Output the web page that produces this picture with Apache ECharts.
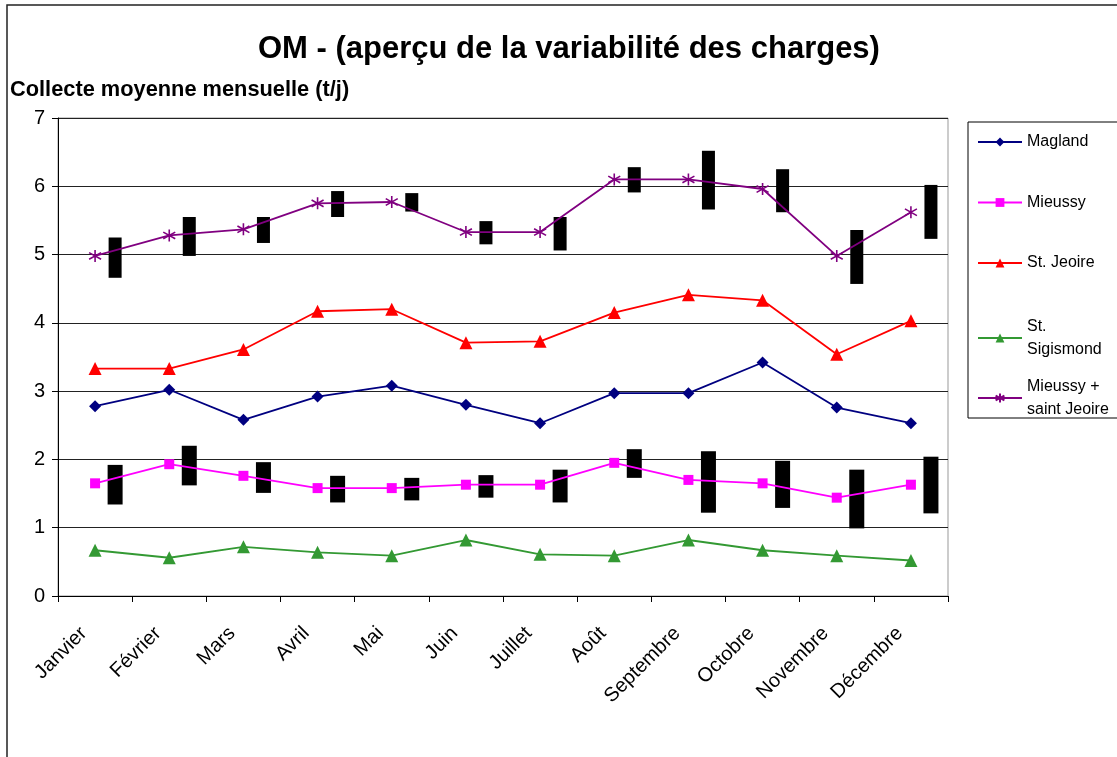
<!DOCTYPE html>
<html>
<head>
<meta charset="utf-8">
<title>OM - variabilité des charges</title>
<script src="https://cdn.jsdelivr.net/npm/echarts@6/dist/echarts.min.js"></script>
<style>
  html, body { margin: 0; padding: 0; background: #fff; }
  #chart { width: 1117px; height: 757px; }
</style>
</head>
<body>
<div id="chart"></div>
<script>
// mois
const months = ['Janvier', 'Février', 'Mars', 'Avril', 'Mai', 'Juin', 'Juillet', 'Août', 'Septembre', 'Octobre', 'Novembre', 'Décembre'];
const yTicks = [0, 1, 2, 3, 4, 5, 6, 7];

// collecte moyenne (t/j)
const magland = [2.78, 3.02, 2.58, 2.92, 3.08, 2.80, 2.53, 2.97, 2.97, 3.42, 2.76, 2.53];
const mieussy = [1.65, 1.93, 1.76, 1.58, 1.58, 1.63, 1.63, 1.95, 1.70, 1.65, 1.44, 1.63];
const stJeoire = [3.33, 3.33, 3.61, 4.17, 4.20, 3.71, 3.73, 4.15, 4.41, 4.33, 3.54, 4.03];
const stSigismond = [0.67, 0.56, 0.72, 0.64, 0.59, 0.82, 0.61, 0.59, 0.82, 0.67, 0.59, 0.52];
const mieussyJeoire = [4.98, 5.28, 5.37, 5.75, 5.77, 5.33, 5.33, 6.10, 6.10, 5.96, 4.98, 5.62];

// variabilité (min / max) - barres noires
const mieussyLow = [1.34, 1.62, 1.51, 1.37, 1.40, 1.44, 1.37, 1.73, 1.22, 1.29, 0.99, 1.21];
const mieussyHigh = [1.92, 2.20, 1.96, 1.76, 1.73, 1.77, 1.85, 2.15, 2.12, 1.98, 1.85, 2.04];
const mjLow = [4.66, 4.98, 5.17, 5.55, 5.63, 5.15, 5.06, 5.91, 5.66, 5.62, 4.57, 5.23];
const mjHigh = [5.25, 5.55, 5.55, 5.93, 5.90, 5.49, 5.55, 6.28, 6.52, 6.25, 5.36, 6.02];

const starPath = 'path://M5,0 L5,10 M0.8,2.2 L9.2,7.8 M9.2,2.2 L0.8,7.8';

function rangeItem(widthPx) {
  return function (params, api) {
    const idx = api.value(0);
    const top = api.coord([idx, api.value(2)]);
    const bot = api.coord([idx, api.value(1)]);
    const band = api.size([1, 0])[0];
    const cx = top[0] + band * 0.27;
    return {
      type: 'rect',
      shape: { x: cx - widthPx / 2, y: top[1], width: widthPx, height: bot[1] - top[1] },
      style: { fill: '#000' }
    };
  };
}

const legendText = { fontSize: 16, lineHeight: 23, color: '#000' };

const chart = echarts.init(document.getElementById('chart'));
chart.setOption({
  animation: false,
  textStyle: { fontFamily: 'Liberation Sans, Arial, sans-serif', color: '#000' },
  graphic: [{
    type: 'rect',
    shape: { x: 7, y: 5, width: 1200, height: 800 },
    style: { fill: 'none', stroke: '#222', lineWidth: 1.5 },
    silent: true
  }, {
    type: 'rect',
    shape: { x: 968, y: 122, width: 160, height: 296 },
    style: { fill: 'none', stroke: '#000', lineWidth: 1 },
    silent: true
  }],
  title: [{
    text: 'OM - (aperçu de la variabilité des charges)',
    left: 253, top: 29,
    textStyle: { fontSize: 31, fontWeight: 'bold', color: '#000' }
  }, {
    text: 'Collecte moyenne mensuelle (t/j)',
    left: 5, top: 74,
    textStyle: { fontSize: 21.8, fontWeight: 'bold', color: '#000' }
  }],
  legend: [{
    orient: 'vertical',
    left: 977, top: 130.5, padding: 0,
    data: ['Magland', 'Mieussy', 'St. Jeoire'],
    itemWidth: 44, itemHeight: 11, itemGap: 37.5,
    textStyle: legendText
  }, {
    orient: 'vertical',
    left: 977, top: 315, padding: 0,
    data: ['St. Sigismond', 'Mieussy + saint Jeoire'],
    formatter: function (name) {
      if (name === 'St. Sigismond') return 'St.\nSigismond';
      return 'Mieussy +\nsaint Jeoire';
    },
    itemWidth: 44, itemHeight: 11, itemGap: 14,
    textStyle: legendText
  }],
  grid: { left: 58, right: 169, top: 118, bottom: 161, show: true, borderColor: '#999', borderWidth: 1 },
  xAxis: {
    type: 'category',
    data: months,
    boundaryGap: true,
    axisLine: { lineStyle: { color: '#000', width: 1 } },
    axisTick: { show: true, length: 6, interval: 0, lineStyle: { color: '#000' } },
    axisLabel: { rotate: 45, interval: 0, fontSize: 20, color: '#000', margin: 23, padding: [0, 16, 0, 0] },
    splitLine: { show: false }
  },
  yAxis: {
    type: 'value',
    min: yTicks[0], max: yTicks[yTicks.length - 1], interval: 1,
    axisLine: { show: true, lineStyle: { color: '#000', width: 1 } },
    axisTick: { show: true, length: 6, lineStyle: { color: '#000' } },
    axisLabel: { fontSize: 20, color: '#000', margin: 13 },
    splitLine: { lineStyle: { color: '#222', width: 1 } }
  },
  series: [{
    name: 'Magland', type: 'line', data: magland,
    symbol: 'diamond', symbolSize: 12,
    lineStyle: { color: '#000080', width: 1.8 }, itemStyle: { color: '#000080' }
  }, {
    name: 'Mieussy', type: 'line', data: mieussy,
    symbol: 'rect', symbolSize: 10,
    lineStyle: { color: '#ff00ff', width: 1.8 }, itemStyle: { color: '#ff00ff' }
  }, {
    name: 'St. Jeoire', type: 'line', data: stJeoire,
    symbol: 'triangle', symbolSize: 13,
    lineStyle: { color: '#ff0000', width: 1.8 }, itemStyle: { color: '#ff0000' }
  }, {
    name: 'St. Sigismond', type: 'line', data: stSigismond,
    symbol: 'triangle', symbolSize: 13,
    lineStyle: { color: '#339933', width: 1.8 }, itemStyle: { color: '#339933' }
  }, {
    name: 'Mieussy + saint Jeoire', type: 'line', data: mieussyJeoire,
    symbol: starPath, symbolSize: 12,
    lineStyle: { color: '#800080', width: 1.8 },
    itemStyle: { color: 'none', borderColor: '#800080', borderWidth: 1.6 }
  }, {
    name: 'var Mieussy', type: 'custom',
    renderItem: rangeItem(15),
    encode: { x: 0, y: [1, 2] },
    data: months.map((m, i) => [i, mieussyLow[i], mieussyHigh[i]]),
    z: 1
  }, {
    name: 'var Mieussy + saint Jeoire', type: 'custom',
    renderItem: rangeItem(13),
    encode: { x: 0, y: [1, 2] },
    data: months.map((m, i) => [i, mjLow[i], mjHigh[i]]),
    z: 1
  }]
});
</script>
</body>
</html>
